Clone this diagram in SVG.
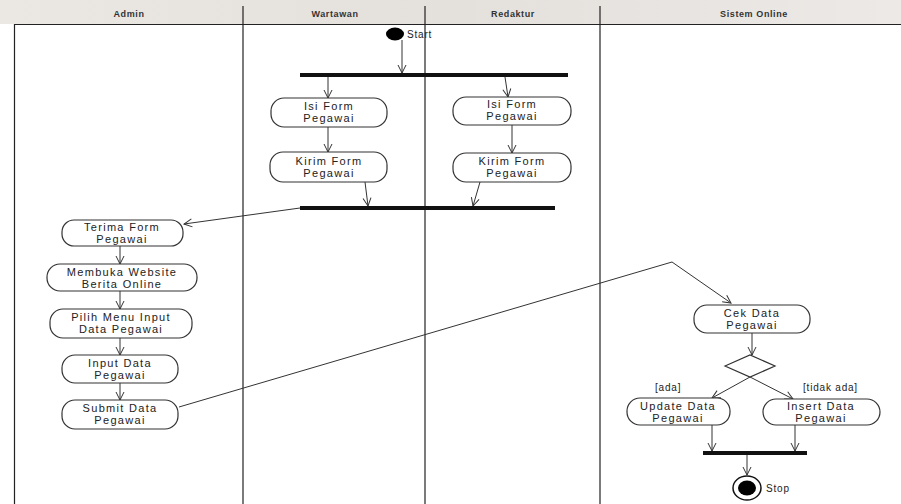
<svg xmlns="http://www.w3.org/2000/svg" width="901" height="504" viewBox="0 0 901 504">
  <defs>
    <marker id="arr" markerWidth="10" markerHeight="10" refX="9" refY="5" orient="auto" markerUnits="userSpaceOnUse">
      <path d="M1,1 L9,5 L1,9" fill="none" stroke="#333" stroke-width="1"/>
    </marker>
    <linearGradient id="hdr" x1="0" y1="0" x2="1" y2="0">
      <stop offset="0" stop-color="#ebe8e4"/>
      <stop offset="0.5" stop-color="#e4e0dc"/>
      <stop offset="1" stop-color="#ece9e6"/>
    </linearGradient>
  </defs>
  <style>
    .lane { stroke: #222; stroke-width: 1.2; fill: none; }
    .hdr { font-family: "Liberation Sans", Arial, sans-serif; font-size: 9px; font-weight: bold; fill: #333; text-anchor: middle; letter-spacing: 0.6px; }
    .act { fill: #fff; stroke: #333; stroke-width: 1.2; }
    .lbl { font-family: "Liberation Sans", Arial, sans-serif; font-size: 11px; fill: #222; text-anchor: middle; letter-spacing: 1.3px; }
    .small { font-family: "Liberation Sans", Arial, sans-serif; font-size: 10px; fill: #222; letter-spacing: 0.8px; }
    .edge { stroke: #333; stroke-width: 1; fill: none; marker-end: url(#arr); }
    .bar { fill: #111; }
  </style>

  <rect width="901" height="504" fill="#fff"/>

  <!-- swimlane frame -->
  <g id="lanes">
    <rect x="0" y="0" width="901" height="24" fill="url(#hdr)"/>
    <line class="lane" x1="14" y1="24.5" x2="901" y2="24.5" stroke-width="2"/>
    <line class="lane" x1="14.5" y1="24" x2="14.5" y2="504"/>
    <line class="lane" x1="243" y1="6" x2="243" y2="504"/>
    <line class="lane" x1="425" y1="6" x2="425" y2="504"/>
    <line class="lane" x1="600" y1="6" x2="600" y2="504"/>
    <text class="hdr" x="129" y="17">Admin</text>
    <text class="hdr" x="335" y="17">Wartawan</text>
    <text class="hdr" x="513" y="17">Redaktur</text>
    <text class="hdr" x="754" y="17">Sistem Online</text>
  </g>

  <!-- connectors -->
  <g id="connectors">
    <line class="edge" x1="402" y1="40" x2="402" y2="73"/>
    <line class="edge" x1="328" y1="77" x2="328" y2="98"/>
    <line class="edge" x1="505" y1="77" x2="508" y2="97"/>
    <line class="edge" x1="328" y1="127" x2="328" y2="152"/>
    <line class="edge" x1="512" y1="125" x2="512" y2="153"/>
    <line class="edge" x1="365" y1="182" x2="368" y2="206"/>
    <line class="edge" x1="480" y1="182" x2="473" y2="206"/>
    <line class="edge" x1="300" y1="208" x2="184" y2="224"/>
    <line class="edge" x1="120" y1="246" x2="120" y2="264"/>
    <line class="edge" x1="120" y1="291" x2="120" y2="309"/>
    <line class="edge" x1="120" y1="338" x2="120" y2="355"/>
    <line class="edge" x1="120" y1="383" x2="120" y2="400"/>
    <polyline class="edge" points="179,407 672,262 731,303"/>
    <line class="edge" x1="752" y1="333" x2="752" y2="355"/>
    <line class="edge" x1="750" y1="377" x2="712" y2="398"/>
    <line class="edge" x1="750" y1="377" x2="793" y2="399"/>
    <line class="edge" x1="712" y1="425" x2="712" y2="451"/>
    <line class="edge" x1="795" y1="425" x2="795" y2="451"/>
    <line class="edge" x1="747" y1="455" x2="747" y2="475"/>
  </g>

  <!-- initial node -->
  <g id="start">
    <ellipse cx="395" cy="34" rx="9" ry="6.5" fill="#000"/>
    <text class="small" x="407" y="38">Start</text>
  </g>

  <!-- fork / join bars -->
  <g id="fork1"><rect class="bar" x="300" y="73" width="268" height="4"/></g>
  <g id="join1"><rect class="bar" x="300" y="206" width="255" height="4"/></g>
  <g id="join2"><rect class="bar" x="703" y="451" width="104" height="4"/></g>

  <!-- Wartawan -->
  <g id="isi-form-wartawan">
    <rect class="act" x="271" y="98" width="116" height="29" rx="13" ry="13"/>
    <text class="lbl" x="329" y="110">Isi Form</text>
    <text class="lbl" x="329" y="122">Pegawai</text>
  </g>
  <g id="kirim-form-wartawan">
    <rect class="act" x="270" y="152" width="117" height="30" rx="13" ry="13"/>
    <text class="lbl" x="329" y="165">Kirim Form</text>
    <text class="lbl" x="329" y="177">Pegawai</text>
  </g>

  <!-- Redaktur -->
  <g id="isi-form-redaktur">
    <rect class="act" x="453" y="97" width="118" height="28" rx="13" ry="13"/>
    <text class="lbl" x="512" y="108">Isi Form</text>
    <text class="lbl" x="512" y="120">Pegawai</text>
  </g>
  <g id="kirim-form-redaktur">
    <rect class="act" x="453" y="153" width="118" height="29" rx="13" ry="13"/>
    <text class="lbl" x="512" y="165">Kirim Form</text>
    <text class="lbl" x="512" y="177">Pegawai</text>
  </g>

  <!-- Admin -->
  <g id="terima-form">
    <rect class="act" x="62" y="220" width="121" height="26" rx="12" ry="12"/>
    <text class="lbl" x="122" y="231">Terima Form</text>
    <text class="lbl" x="122" y="243">Pegawai</text>
  </g>
  <g id="membuka-website">
    <rect class="act" x="47" y="264" width="150" height="27" rx="13" ry="13"/>
    <text class="lbl" x="122" y="276">Membuka Website</text>
    <text class="lbl" x="122" y="288">Berita Online</text>
  </g>
  <g id="pilih-menu">
    <rect class="act" x="50" y="309" width="142" height="29" rx="13" ry="13"/>
    <text class="lbl" x="121" y="321">Pilih Menu Input</text>
    <text class="lbl" x="121" y="333">Data Pegawai</text>
  </g>
  <g id="input-data">
    <rect class="act" x="62" y="355" width="116" height="28" rx="13" ry="13"/>
    <text class="lbl" x="120" y="367">Input Data</text>
    <text class="lbl" x="120" y="379">Pegawai</text>
  </g>
  <g id="submit-data">
    <rect class="act" x="62" y="400" width="116" height="29" rx="13" ry="13"/>
    <text class="lbl" x="120" y="412">Submit Data</text>
    <text class="lbl" x="120" y="424">Pegawai</text>
  </g>

  <!-- Sistem Online -->
  <g id="cek-data">
    <rect class="act" x="694" y="305" width="116" height="28" rx="13" ry="13"/>
    <text class="lbl" x="752" y="317">Cek Data</text>
    <text class="lbl" x="752" y="329">Pegawai</text>
  </g>
  <g id="decision">
    <polygon points="725,366 750,355 775,366 750,377" fill="#fff" stroke="#333" stroke-width="1.2"/>
  </g>
  <g id="guards">
    <text class="small" x="655" y="391">[ada]</text>
    <text class="small" x="803" y="391">[tidak ada]</text>
  </g>
  <g id="update-data">
    <rect class="act" x="627" y="398" width="103" height="27" rx="13" ry="13"/>
    <text class="lbl" x="678" y="410">Update Data</text>
    <text class="lbl" x="678" y="422">Pegawai</text>
  </g>
  <g id="insert-data">
    <rect class="act" x="763" y="399" width="117" height="26" rx="13" ry="13"/>
    <text class="lbl" x="821" y="410">Insert Data</text>
    <text class="lbl" x="821" y="422">Pegawai</text>
  </g>

  <!-- final node -->
  <g id="stop">
    <ellipse cx="747" cy="488" rx="14" ry="12" fill="#fff" stroke="#111" stroke-width="1.5"/>
    <ellipse cx="747" cy="488" rx="9" ry="7.5" fill="#000"/>
    <text class="small" x="766" y="492">Stop</text>
  </g>
</svg>
